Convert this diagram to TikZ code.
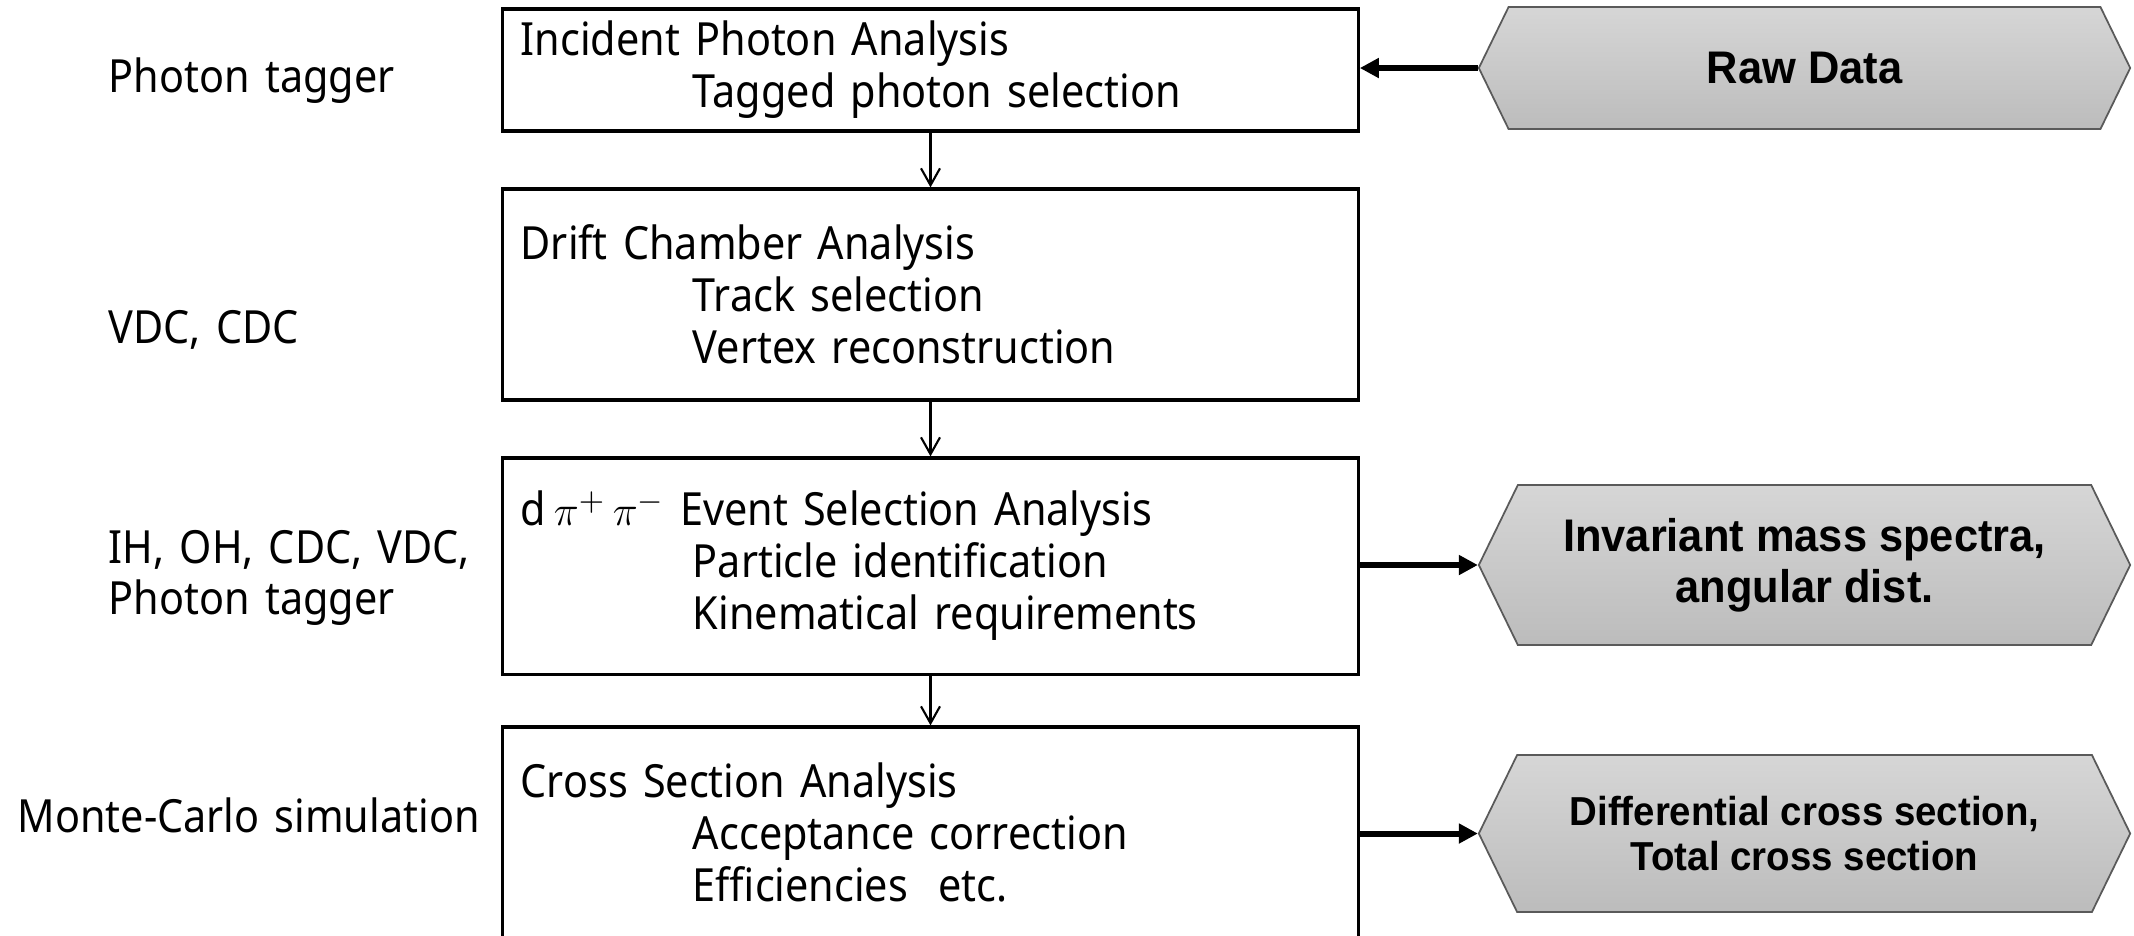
\documentclass[tikz,border=0pt]{standalone}
\usepackage{fontspec}
\setmainfont{Noto Sans}[FakeStretch=0.905]
\newfontfamily\hexfont{Liberation Sans}[FakeStretch=0.95]
\usetikzlibrary{shapes.symbols,arrows.meta}

\definecolor{hextop}{RGB}{214,214,214}
\definecolor{hexbot}{RGB}{188,188,188}
\definecolor{hexline}{RGB}{90,90,90}

\tikzset{
        stage/.style={draw, line width=0.9pt, minimum width=8.55cm, text width=8.19cm,
                inner xsep=0.18cm, align=left, font=\fontsize{13}{14.8}\selectfont},
        product/.style={signal, signal to=east and west, signal from=nowhere, signal pointer angle=128,
                draw=hexline, line width=0.5pt, top color=hextop, bottom color=hexbot,
                minimum width=6.51cm, align=center, font=\hexfont\bfseries\fontsize{13}{14.5}\selectfont},
        detector/.style={anchor=base west, inner sep=0pt, text width=5cm, align=left,
                font=\fontsize{13}{14.5}\selectfont},
        flow/.style={line width=0.6pt, -{Straight Barb[length=4.8pt,width=5.4pt]}},
        feed/.style={line width=1.7pt, -{Triangle[length=5.4pt,width=5.4pt]}}
}

\begin{document}
\begin{tikzpicture}[x=0.01cm, y=-0.01cm]
        \useasboundingbox (0,0) rectangle (2134,935);

        % analysis chain
        \node[stage, minimum height=1.22cm] (incident) at (930.5,70)
                {Incident Photon Analysis\\\hspace*{1.72cm}Tagged photon selection};
        \node[stage, minimum height=2.11cm] (drift) at (930.5,294.5)
                {Drift Chamber Analysis\\\hspace*{1.72cm}Track selection\\\hspace*{1.72cm}Vertex reconstruction};
        \node[stage, minimum height=2.16cm] (dpipi) at (930.5,566)
                {d\,$\pi^{+}\,\pi^{-}$ Event Selection Analysis\\\hspace*{1.72cm}Particle identification\\\hspace*{1.72cm}Kinematical requirements};
        \node[stage, minimum height=2.10cm] (cross) at (930.5,832)
                {Cross Section Analysis\\\hspace*{1.72cm}Acceptance correction\\\hspace*{1.72cm}Efficiencies\ \ etc.};

        % data products
        \node[product, minimum height=1.22cm] (raw) at (1804.5,68) {Raw Data};
        \node[product, minimum height=1.6cm] (spectra) at (1804.5,565)
                {Invariant mass spectra,\\angular dist.};
        \node[product, minimum height=1.57cm, font=\hexfont\bfseries\fontsize{11.5}{13}\selectfont] (xsec) at (1804.5,833.5)
                {Differential cross section,\\Total cross section};

        % detectors used
        \node[detector] (tagger) at (108,92) {Photon tagger};
        \node[detector] (chambers) at (108,343) {VDC, CDC};
        \node[detector] (hodo) at (108,563) {IH, OH, CDC, VDC,\\Photon tagger};
        \node[detector] (mc) at (17,832) {Monte-Carlo simulation};

        \foreach \a/\b in {incident/drift, drift/dpipi, dpipi/cross}
        {
                \draw[flow] (\a.south) -- (\b.north);
        }
        \draw[feed] (raw.west) -- (raw.west -| incident.east);
        \draw[feed] (spectra.west -| dpipi.east) -- (spectra.west);
        \draw[feed] (xsec.west -| cross.east) -- (xsec.west);
\end{tikzpicture}
\end{document}
